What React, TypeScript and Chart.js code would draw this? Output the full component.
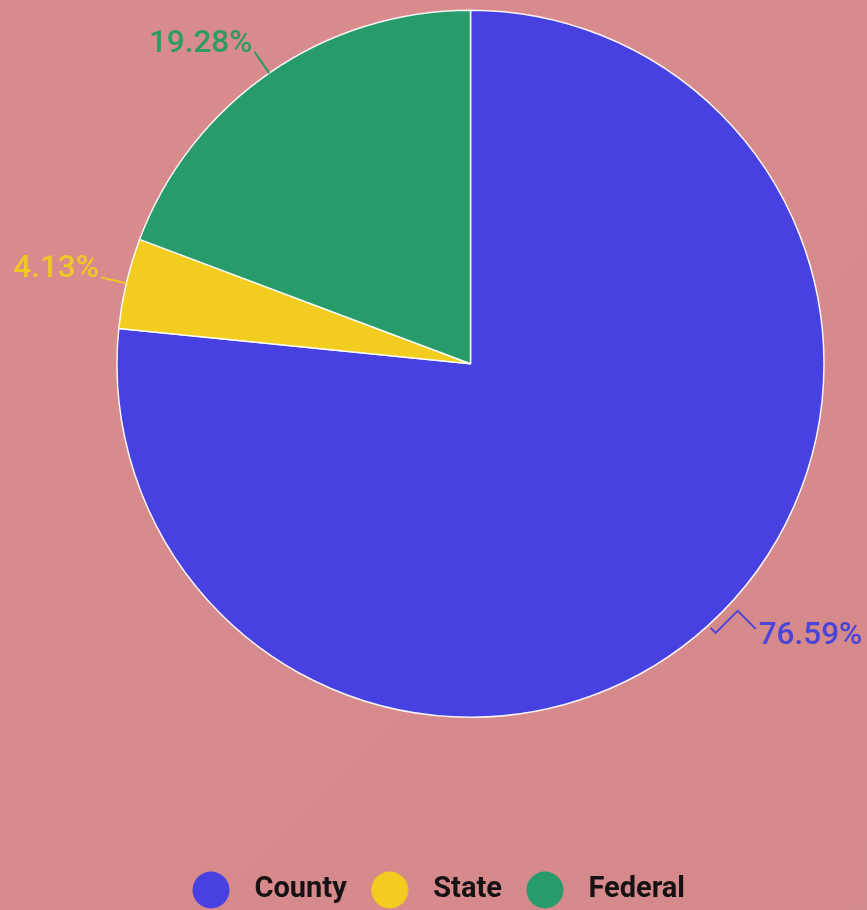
import React, { useEffect, useRef } from 'react';
import { Chart, registerables } from 'chart.js';

Chart.register(...registerables);

const categories = ['County', 'State', 'Federal'];
const shares = [76.59, 4.13, 19.28];
const sliceColors = ['#4641e0', '#f2cc1f', '#289b6b'];
const labelColors = ['#4a44d8', '#f0c823', '#2f9a64'];

const outerLabels = {
  id: 'outerLabels',
  afterDatasetsDraw(chart: any) {
    const ctx = chart.ctx;
    const meta = chart.getDatasetMeta(0);
    const values = chart.data.datasets[0].data as number[];
    meta.data.forEach((arc: any, i: number) => {
      const { x, y, startAngle, endAngle, outerRadius } = arc.getProps(
        ['x', 'y', 'startAngle', 'endAngle', 'outerRadius'],
        true
      );
      const mid = (startAngle + endAngle) / 2;
      const c = Math.cos(mid);
      const s = Math.sin(mid);
      const ex = x + c * outerRadius;
      const ey = y + s * outerRadius;
      const text = values[i].toFixed(2) + '%';
      ctx.save();
      ctx.strokeStyle = labelColors[i];
      ctx.fillStyle = labelColors[i];
      ctx.lineWidth = 2;
      ctx.lineJoin = 'miter';
      ctx.font = '500 31.5px Roboto';
      ctx.textBaseline = 'alphabetic';
      ctx.beginPath();
      if (c >= 0) {
        ctx.moveTo(ex + 3, ey + 2);
        ctx.lineTo(ex + 8, ey + 7);
        ctx.lineTo(ex + 30, ey - 15);
        ctx.lineTo(ex + 48, ey + 3);
        ctx.stroke();
        ctx.textAlign = 'left';
        ctx.fillText(text, ex + 51, ey + 18);
      } else {
        const L = 26;
        const fx = ex + c * L;
        const fy = ey + s * L;
        ctx.moveTo(ex, ey);
        ctx.lineTo(fx, fy);
        ctx.stroke();
        ctx.textAlign = 'right';
        ctx.fillText(text, fx - 2, fy);
      }
      ctx.restore();
    });
  },
};

export default function App() {
  const ref = useRef<HTMLCanvasElement>(null);

  useEffect(() => {
    const makeDot = (color: string) => {
      const cv = document.createElement('canvas');
      cv.width = 38;
      cv.height = 38;
      const g = cv.getContext('2d')!;
      g.fillStyle = color;
      g.beginPath();
      g.arc(19, 19, 18.5, 0, Math.PI * 2);
      g.fill();
      return cv;
    };
    const dots = sliceColors.map(makeDot);

    const chart = new Chart(ref.current!, {
      type: 'pie',
      data: {
        labels: categories,
        datasets: [
          {
            data: shares,
            backgroundColor: sliceColors,
            borderColor: 'rgba(255,255,255,0.92)',
            borderWidth: 1.5,
            hoverBorderWidth: 1.5,
            hoverOffset: 0,
            offset: 0,
          },
        ],
      },
      options: {
        responsive: false,
        animation: false,
        events: [],
        layout: { padding: { top: 9.5, bottom: -4.5, left: 0, right: 0 } },
        plugins: {
          tooltip: { enabled: false },
          title: {
            display: true,
            position: 'left',
            text: '',
            padding: { top: 64, bottom: 0 },
            font: { size: 10, lineHeight: 1 },
          },
          legend: {
            position: 'bottom',
            align: 'center',
            title: {
              display: true,
              text: '',
              padding: { top: 133.5, bottom: 0 },
              font: { size: 10, lineHeight: 1 },
            },
            labels: {
              usePointStyle: true,
              pointStyleWidth: 58,
              padding: 14,
              color: '#161213',
              font: { family: 'Roboto', size: 29, weight: 'bold' },
              generateLabels: (ch: any) => {
                const base = (Chart as any).overrides.doughnut.plugins.legend.labels.generateLabels(ch);
                return base.map((it: any, i: number) => ({ ...it, pointStyle: dots[i] }));
              },
            },
          },
        },
      } as any,
      plugins: [outerLabels],
    });
    return () => chart.destroy();
  }, []);

  return (
    <div
      style={{
        position: 'fixed',
        left: 0,
        top: 0,
        width: 867,
        height: 910,
        background: 'linear-gradient(135deg, #d98b8e 0%, #d78a8c 60%, #d4898a 100%)',
        overflow: 'hidden',
      }}
    >
      <canvas ref={ref} width={867} height={910} style={{ display: 'block' }} />
    </div>
  );
}
